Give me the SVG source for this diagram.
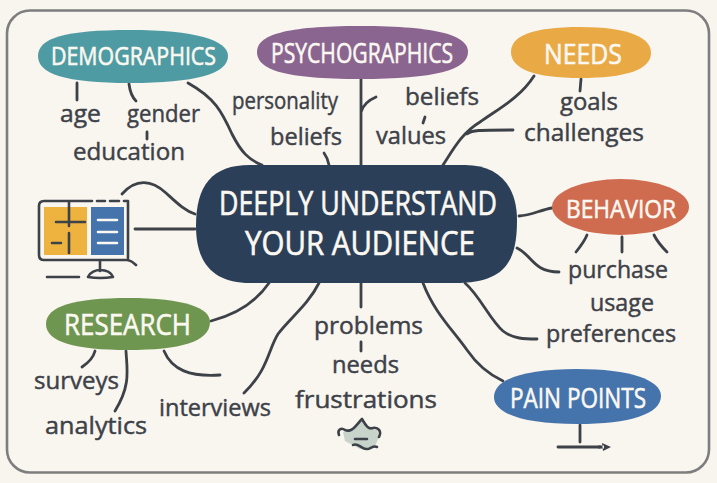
<svg xmlns="http://www.w3.org/2000/svg" width="717" height="483" viewBox="0 0 717 483">
<style>
.c{fill:none;stroke:#3d4148;stroke-width:2.8;stroke-linecap:round;stroke-linejoin:round}
.i{fill:none;stroke:#3d4148;stroke-width:2.6;stroke-linecap:round;stroke-linejoin:round}
.w{fill:none;stroke:#fbf8f1;stroke-width:2.6;stroke-linecap:round}
text{font-family:"Open Sans","Noto Sans","Liberation Sans",sans-serif}
.t{fill:#3d4148;stroke:#3d4148;stroke-width:.45;font-size:24.5px}
.n{fill:#fbf8f1;stroke:#fbf8f1;stroke-width:.6;font-size:28px}
</style>
<rect width="717" height="483" fill="#f8f5ef"/>
<rect x="7" y="10.500" width="702" height="462" rx="23" fill="#f9f5ef" stroke="#7e7e7e" stroke-width="2.600"/>
<g id="connectors">
<path class="c" d="M188 83C215 98 222 112 232 134C241 152 249 160 262 165"/>
<path class="c" d="M77 83V100M129 84C130 92 132 97 136 101M147 132V139"/>
<path class="c" d="M324 153C327 157 328 160 329 165"/>
<path class="c" d="M361 79V165M361 112C363 105 369 100 376 97M425 117L423 123"/>
<path class="c" d="M534 76C520 98 498 109 480 122C462 133 454 148 443 165M467 134C472 130 478 130 513 130"/>
<path class="c" d="M581 79L580 91"/>
<path class="c" d="M519 216C532 215 540 210 552 208"/>
<path class="c" d="M587 235C585 240 580 247 576 252M622 237V252M654 235C657 241 662 247 667 252"/>
<path class="c" d="M517 248C532 255 533 272 559 272"/>
<path class="c" d="M465 283C480 296 490 320 503 331C513 339 525 339 537 339"/>
<path class="c" d="M423 283C434 312 452 329 467 350C478 366 490 375 503 381"/>
<path class="c" d="M580 425V442M558 447H600"/>
<path d="M602 443L603 451L611 447Z M598 445.600H604V448.400H598Z" fill="#3d4148"/>
<path class="c" d="M361 283V307M361 342V351"/>
<path class="c" d="M319 283C308 305 290 318 278 334C268 350 268 370 244 393"/>
<path class="c" d="M269 283C256 302 238 314 211 321"/>
<path class="c" d="M95 351C93 359 88 363 82 367M126 351C127 370 131 385 115 411M164 351C172 370 190 377 220 375"/>
<path class="c" d="M122 194C136 178 152 180 166 193C177 203 185 211 195 214"/>
<path class="c" d="M135 229H195"/>
</g>
<g id="demographics">
<path d="M38 56C38 38 65 30 130 30C195 30 228 40 228 56C228 74 195 83 130 83C65 83 38 74 38 56Z" fill="#4f9ba3"/>
<text class="n" x="51" y="65" style="font-size:26px" textLength="165" lengthAdjust="spacingAndGlyphs">DEMOGRAPHICS</text>
</g>
<g id="psychographics">
<path d="M257 52C257 35 285 26 360 26C440 26 468 36 468 52C468 70 435 79 360 79C285 79 257 70 257 52Z" fill="#8a6590"/>
<text class="n" x="271" y="63" textLength="182" lengthAdjust="spacingAndGlyphs">PSYCHOGRAPHICS</text>
</g>
<g id="needs">
<path d="M511 52C511 36 532 27 580 27C630 27 651 38 651 53C651 70 625 78 580 78C535 78 511 69 511 52Z" fill="#e9a945"/>
<text class="n" x="544" y="64" textLength="78" lengthAdjust="spacingAndGlyphs">NEEDS</text>
</g>
<g id="behavior">
<ellipse cx="620.500" cy="207" rx="68.500" ry="28" fill="#cf6b4f"/>
<text class="n" x="566" y="218" style="font-size:26px" textLength="110" lengthAdjust="spacingAndGlyphs">BEHAVIOR</text>
</g>
<g id="research">
<path d="M46 324C46 306 75 298 128 298C185 298 210 308 210 322C210 342 180 350 128 350C75 350 46 342 46 324Z" fill="#6f9650"/>
<text class="n" x="64" y="335" style="font-size:30px" textLength="127" lengthAdjust="spacingAndGlyphs">RESEARCH</text>
</g>
<g id="pain-points">
<path d="M494 397C494 379 525 369 577 369C630 369 661 380 661 396C661 414 630 424 577 424C525 424 494 414 494 397Z" fill="#4574ad"/>
<text class="n" x="510" y="408" textLength="136" lengthAdjust="spacingAndGlyphs">PAIN POINTS</text>
</g>
<g id="center">
<path d="M250 165H465C498 165 517 185 517 220C517 262 505 283 455 283H250C215 283 196 265 196 226C196 185 212 165 250 165Z" fill="#2c3f58"/>
<text class="n" x="219" y="215" style="font-size:32px" textLength="278" lengthAdjust="spacingAndGlyphs">DEEPLY UNDERSTAND</text>
<text class="n" x="245" y="255" style="font-size:32px" textLength="230" lengthAdjust="spacingAndGlyphs">YOUR AUDIENCE</text>
</g>
<g id="labels">
<text class="t" x="60" y="122" textLength="41" lengthAdjust="spacingAndGlyphs">age</text>
<text class="t" x="127" y="122" textLength="73" lengthAdjust="spacingAndGlyphs">gender</text>
<text class="t" x="73" y="160" textLength="112" lengthAdjust="spacingAndGlyphs">education</text>
<text class="t" x="232" y="109" textLength="106" lengthAdjust="spacingAndGlyphs">personality</text>
<text class="t" x="270" y="145" textLength="72" lengthAdjust="spacingAndGlyphs">beliefs</text>
<text class="t" x="405" y="105" textLength="74" lengthAdjust="spacingAndGlyphs">beliefs</text>
<text class="t" x="376" y="144" textLength="70" lengthAdjust="spacingAndGlyphs">values</text>
<text class="t" x="560" y="110" textLength="58" lengthAdjust="spacingAndGlyphs">goals</text>
<text class="t" x="524" y="141" textLength="120" lengthAdjust="spacingAndGlyphs">challenges</text>
<text class="t" x="568" y="278" textLength="100" lengthAdjust="spacingAndGlyphs">purchase</text>
<text class="t" x="590" y="311" textLength="64" lengthAdjust="spacingAndGlyphs">usage</text>
<text class="t" x="546" y="342" textLength="130" lengthAdjust="spacingAndGlyphs">preferences</text>
<text class="t" x="314" y="334" textLength="109" lengthAdjust="spacingAndGlyphs">problems</text>
<text class="t" x="332" y="373" textLength="67" lengthAdjust="spacingAndGlyphs">needs</text>
<text class="t" x="295" y="408" textLength="142" lengthAdjust="spacingAndGlyphs">frustrations</text>
<text class="t" x="34" y="389" textLength="85" lengthAdjust="spacingAndGlyphs">surveys</text>
<text class="t" x="45" y="434" textLength="102" lengthAdjust="spacingAndGlyphs">analytics</text>
<text class="t" x="159" y="416" textLength="112" lengthAdjust="spacingAndGlyphs">interviews</text>
</g>
<g id="monitor-icon">
<rect x="44" y="207" width="43" height="48" fill="#eeb33f"/>
<rect x="91" y="207" width="33" height="48" fill="#4574ad"/>
<path class="i" d="M92 201H44Q39 201 39 206V255Q39 260 44 260H128"/>
<path class="i" d="M97 201H105M110 201H119M124 201H128V258M128 260C132 261 134 263 136 265"/>
<path class="i" d="M69 202V226M56 222H85M69 233V253M52 243H61"/>
<path class="w" d="M98 220H117M98 232H117M98 243H117"/>
<path class="i" d="M100 261V271M88 277C90 272 96 270 100 270C106 270 111 272 113 277Q100 279 88 277ZM47 277H79"/>
</g>
<g id="bottom-icon">
<path d="M343 432L351 430L361 420L369 429L377 430L379 437L375 446L360 449L345 441Z" fill="#c8d3cc"/>
<path class="i" stroke-width="2.200" d="M339 435C337 430 341 427 345 430C352 433 356 425 362 419C365 424 368 430 373 428C378 427 382 431 379 437M355 439H367M353 445C358 442 362 450 367 449C371 449 373 445 377 447"/>
</g>
</svg>
